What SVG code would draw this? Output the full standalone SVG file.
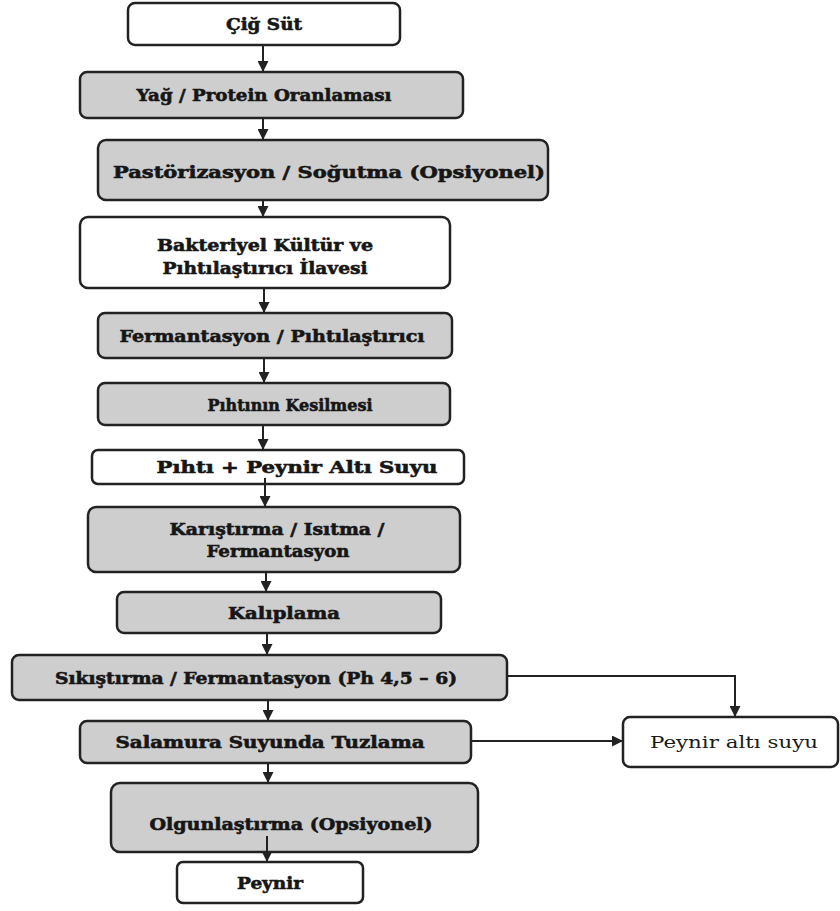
<svg xmlns="http://www.w3.org/2000/svg" width="840" height="911" viewBox="0 0 840 911">
<defs>
<marker id="ah" markerWidth="11" markerHeight="11" refX="10" refY="5.5" orient="auto" markerUnits="userSpaceOnUse">
<path d="M0,0 L11,5.5 L0,11 Z" fill="#222"/>
</marker>
<style>
.w{fill:#fff;stroke:#222;stroke-width:2.5}
.g{fill:#cecece;stroke:#222;stroke-width:2.5}
.t{font-family:"DejaVu Serif","Liberation Serif",serif;font-weight:bold;font-size:17px;fill:#161616;stroke:#161616;stroke-width:0.6;text-anchor:middle}
.r{font-family:"DejaVu Serif","Liberation Serif",serif;font-size:17px;fill:#1a1a1a;text-anchor:middle}
.c{fill:none;stroke:#222;stroke-width:2}
</style>
</defs>
<rect width="840" height="911" fill="#fff"/>
<g id="n1"><rect class="w" x="128" y="3" width="272" height="42" rx="7"/><text class="t" x="264" y="30" textLength="76" lengthAdjust="spacingAndGlyphs">Çiğ Süt</text></g>
<g id="n2"><rect class="g" x="80" y="72" width="383" height="46" rx="7"/><text class="t" x="264" y="101" textLength="255" lengthAdjust="spacingAndGlyphs">Yağ / Protein Oranlaması</text></g>
<g id="n3"><rect class="g" x="98" y="140" width="450" height="60" rx="8"/><text class="t" x="329" y="178" textLength="432" lengthAdjust="spacingAndGlyphs">Pastörizasyon / Soğutma (Opsiyonel)</text></g>
<g id="n4"><rect class="w" x="80" y="217" width="370" height="71" rx="8"/><text class="t" x="265" y="251" textLength="216" lengthAdjust="spacingAndGlyphs">Bakteriyel Kültür ve</text><text class="t" x="265" y="274" textLength="205" lengthAdjust="spacingAndGlyphs">Pıhtılaştırıcı İlavesi</text></g>
<g id="n5"><rect class="g" x="98" y="313" width="354" height="45" rx="7"/><text class="t" x="272" y="342" textLength="305" lengthAdjust="spacingAndGlyphs">Fermantasyon / Pıhtılaştırıcı</text></g>
<g id="n6"><rect class="g" x="98" y="383" width="352" height="42" rx="7"/><text class="t" x="290" y="411" textLength="165" lengthAdjust="spacingAndGlyphs">Pıhtının Kesilmesi</text></g>
<g id="n7"><rect class="w" x="92" y="450" width="372" height="34" rx="6"/><text class="t" x="297" y="473" textLength="281" lengthAdjust="spacingAndGlyphs">Pıhtı + Peynir Altı Suyu</text></g>
<g id="n8"><rect class="g" x="88" y="507" width="372" height="65" rx="8"/><text class="t" x="277" y="535" textLength="215" lengthAdjust="spacingAndGlyphs">Karıştırma / Isıtma /</text><text class="t" x="278" y="557" textLength="143" lengthAdjust="spacingAndGlyphs">Fermantasyon</text></g>
<g id="n9"><rect class="g" x="117" y="592" width="324" height="41" rx="7"/><text class="t" x="284" y="619" textLength="112" lengthAdjust="spacingAndGlyphs">Kalıplama</text></g>
<g id="n10"><rect class="g" x="12" y="655" width="495" height="45" rx="7"/><text class="t" x="256" y="684" textLength="402" lengthAdjust="spacingAndGlyphs">Sıkıştırma / Fermantasyon (Ph 4,5 – 6)</text></g>
<g id="n11"><rect class="g" x="80" y="721" width="391" height="42" rx="7"/><text class="t" x="270" y="748" textLength="309" lengthAdjust="spacingAndGlyphs">Salamura Suyunda Tuzlama</text></g>
<g id="n12"><rect class="g" x="111" y="783" width="367" height="69" rx="9"/><text class="t" x="291" y="830" textLength="283" lengthAdjust="spacingAndGlyphs">Olgunlaştırma (Opsiyonel)</text></g>
<g id="n13"><rect class="w" x="177" y="862" width="186" height="41" rx="6"/><text class="t" x="270" y="889" textLength="66" lengthAdjust="spacingAndGlyphs">Peynir</text></g>
<g id="n14"><rect class="w" x="623" y="717" width="215" height="50" rx="7"/><text class="r" x="734" y="748" textLength="168" lengthAdjust="spacingAndGlyphs">Peynir altı suyu</text></g>
<g id="connectors">
<line class="c" x1="263" y1="45" x2="263" y2="71" marker-end="url(#ah)"/>
<line class="c" x1="263" y1="118" x2="263" y2="139" marker-end="url(#ah)"/>
<line class="c" x1="263" y1="200" x2="263" y2="216" marker-end="url(#ah)"/>
<line class="c" x1="264" y1="288" x2="264" y2="312" marker-end="url(#ah)"/>
<line class="c" x1="264" y1="358" x2="264" y2="382" marker-end="url(#ah)"/>
<line class="c" x1="263" y1="425" x2="263" y2="449" marker-end="url(#ah)"/>
<line class="c" x1="265" y1="478" x2="265" y2="506" marker-end="url(#ah)"/>
<line class="c" x1="266" y1="572" x2="266" y2="591" marker-end="url(#ah)"/>
<line class="c" x1="267" y1="633" x2="267" y2="654" marker-end="url(#ah)"/>
<line class="c" x1="268" y1="700" x2="268" y2="720" marker-end="url(#ah)"/>
<line class="c" x1="268" y1="763" x2="268" y2="782" marker-end="url(#ah)"/>
<line class="c" x1="267" y1="836" x2="267" y2="861" marker-end="url(#ah)"/>
<polyline class="c" points="507,676 735,676 735,716" marker-end="url(#ah)"/>
<line class="c" x1="471" y1="741" x2="622" y2="741" marker-end="url(#ah)"/>
</g>
</svg>
